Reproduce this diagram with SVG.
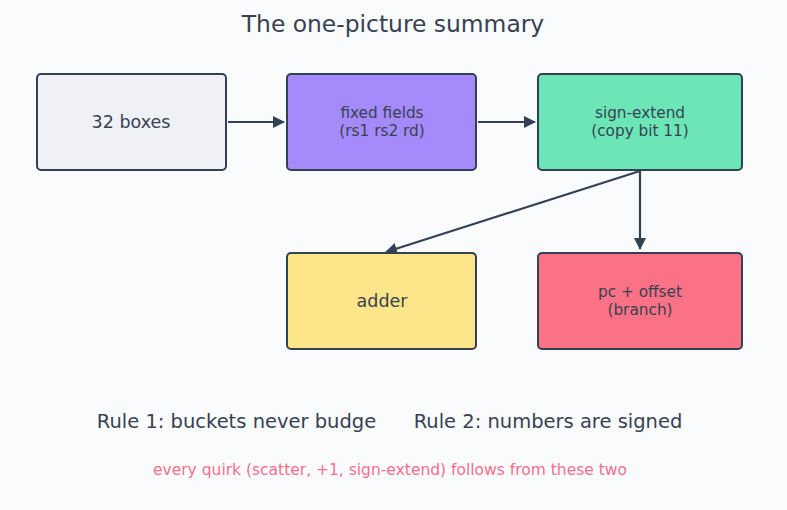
<svg xmlns="http://www.w3.org/2000/svg" width="787" height="510" viewBox="0 0 787 510">
<style>
.box{stroke:#334155;stroke-width:2}
.t{font-family:"DejaVu Sans",sans-serif;fill:#374151;text-anchor:middle}
.e{stroke:#334155;stroke-width:2.2;fill:none}
</style>
<defs>
<marker id="ah" markerWidth="13" markerHeight="13" refX="11" refY="6" orient="auto" markerUnits="userSpaceOnUse">
<path d="M0,0 L12,6 L0,12 z" fill="#334155"/>
</marker>
</defs>
<rect width="787" height="510" fill="#fafbfd"/>
<text class="t" x="393" y="32" font-size="23.4">The one-picture summary</text>
<g id="connectors">
<line class="e" x1="228" y1="122" x2="284" y2="122" marker-end="url(#ah)"/>
<line class="e" x1="478" y1="122" x2="535" y2="122" marker-end="url(#ah)"/>
<line class="e" x1="640" y1="171" x2="640" y2="249" marker-end="url(#ah)"/>
<line class="e" x1="640" y1="171" x2="386" y2="252" marker-end="url(#ah)"/>
</g>
<g id="n1"><rect class="box" x="37" y="74" width="189" height="96" rx="4" fill="#eff1f6"/><text class="t" x="131" y="128" font-size="17.5">32 boxes</text></g>
<g id="n2"><rect class="box" x="287" y="74" width="189" height="96" rx="4" fill="#a48afa"/><text class="t" x="382" y="118" font-size="15.3">fixed fields</text><text class="t" x="382" y="136" font-size="15.3">(rs1 rs2 rd)</text></g>
<g id="n3"><rect class="box" x="538" y="74" width="204" height="96" rx="4" fill="#6ce6b6"/><text class="t" x="640" y="118" font-size="15.3">sign-extend</text><text class="t" x="640" y="136" font-size="15.3">(copy bit 11)</text></g>
<g id="n4"><rect class="box" x="287" y="253" width="189" height="96" rx="4" fill="#fde58a"/><text class="t" x="382" y="307" font-size="17.5">adder</text></g>
<g id="n5"><rect class="box" x="538" y="253" width="204" height="96" rx="4" fill="#fb7185"/><text class="t" x="640" y="297" font-size="15.3">pc + offset</text><text class="t" x="640" y="315" font-size="15.3">(branch)</text></g>
<text class="t" x="236.5" y="428" font-size="19.5">Rule 1: buckets never budge</text>
<text class="t" x="548" y="428" font-size="19.5">Rule 2: numbers are signed</text>
<text class="t" x="390" y="475" font-size="15.5" style="fill:#f4708c">every quirk (scatter, +1, sign-extend) follows from these two</text>
</svg>
